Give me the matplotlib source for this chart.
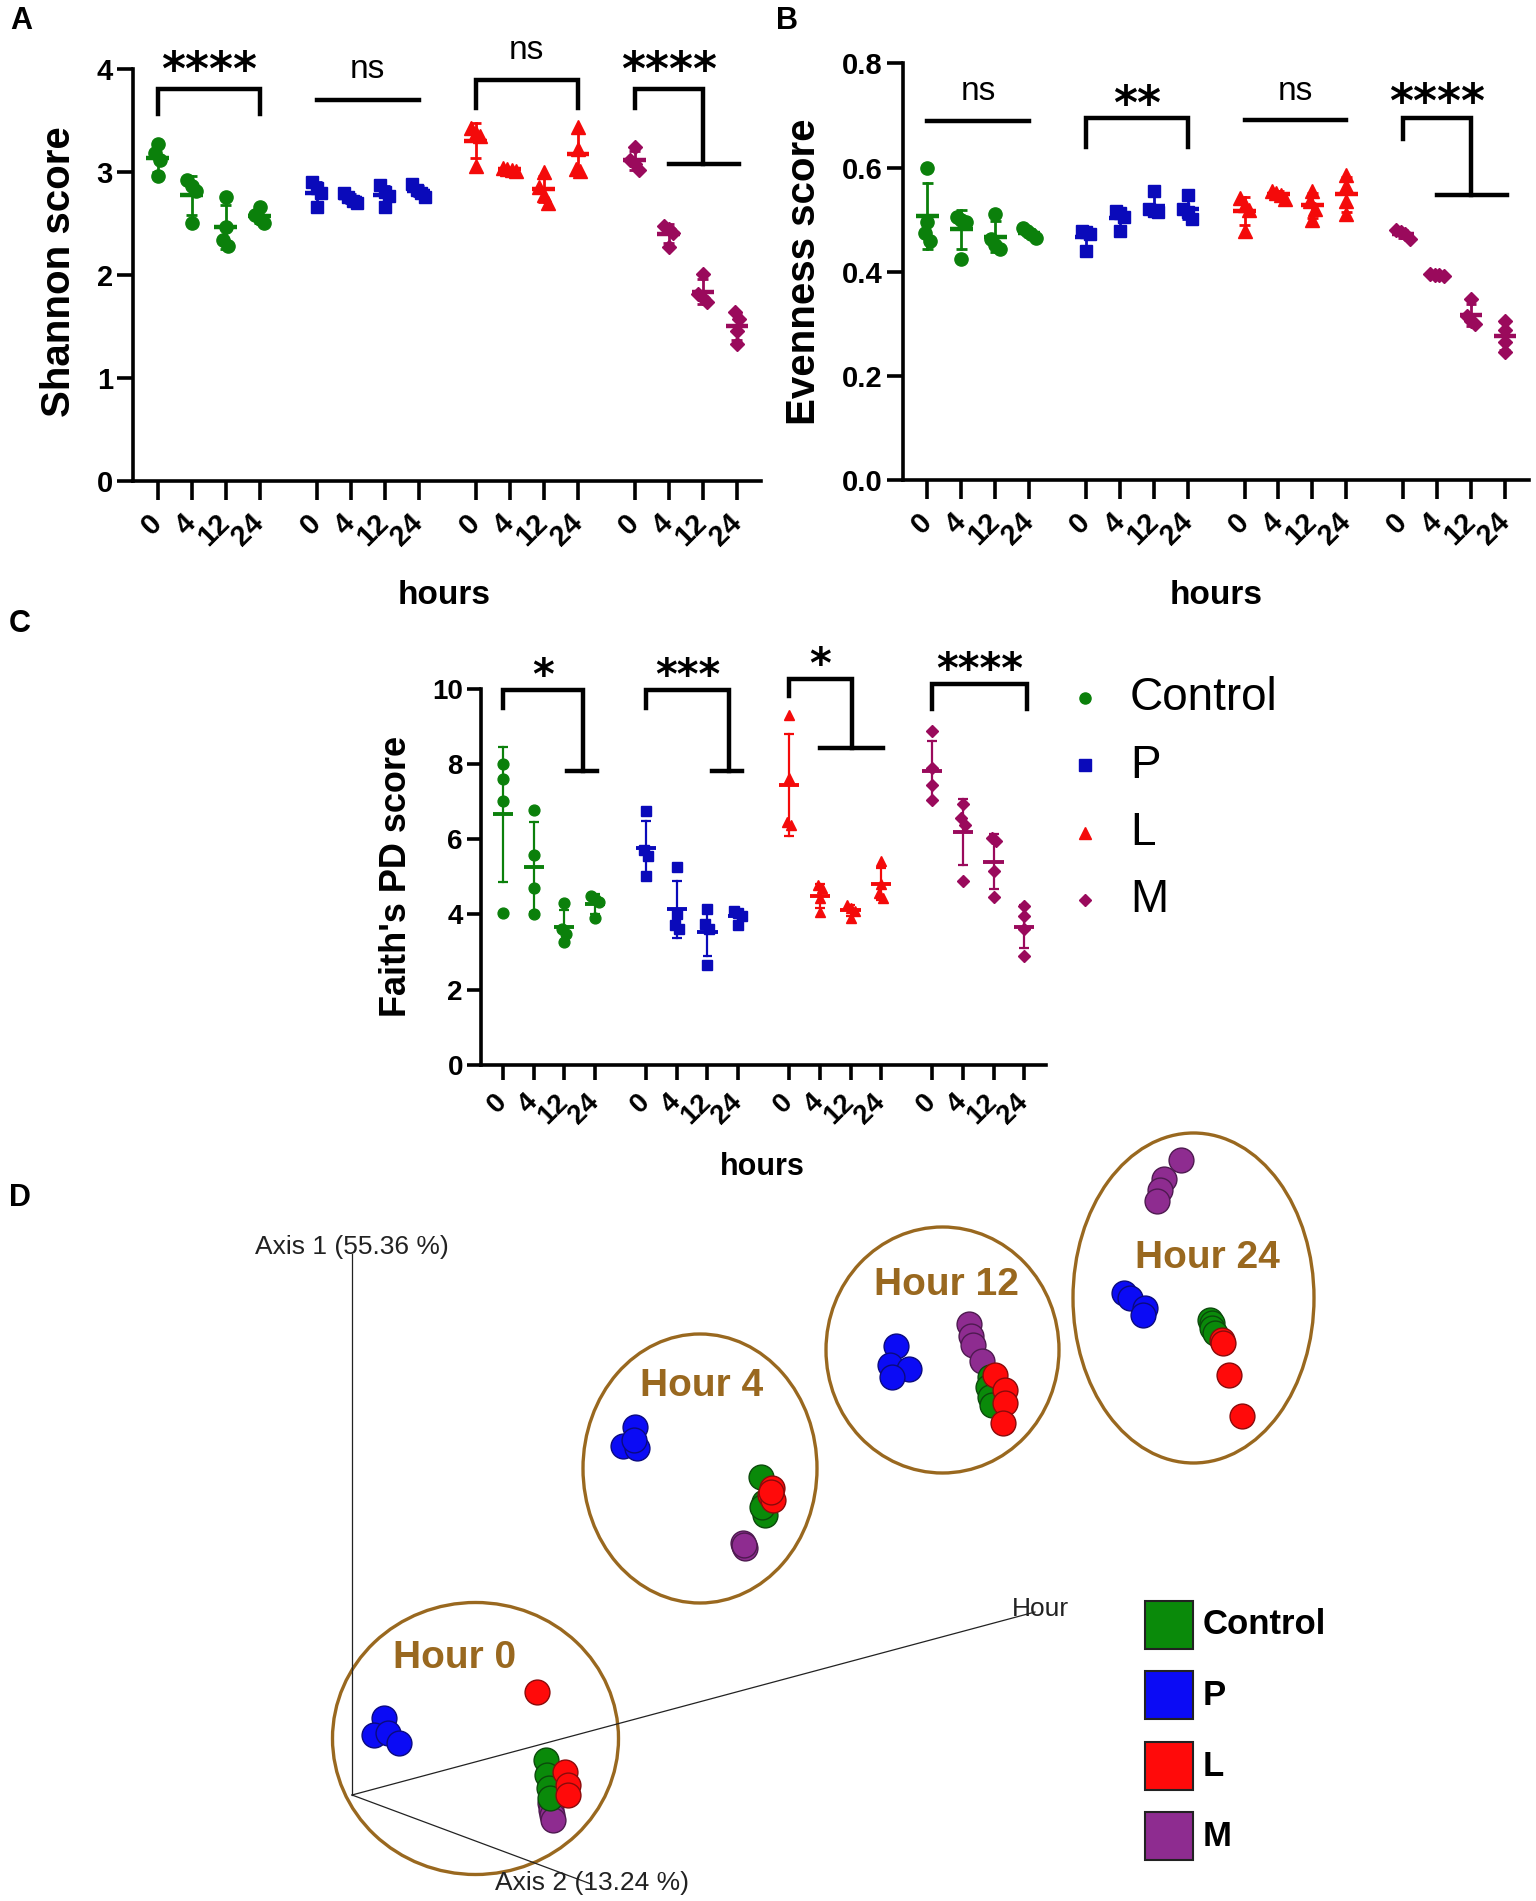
import matplotlib
matplotlib.use('Agg')
import matplotlib.pyplot as plt
import numpy as np
from matplotlib.patches import Ellipse, Rectangle
from matplotlib.transforms import ScaledTranslation

plt.rcParams['font.family'] = ['Liberation Sans', 'DejaVu Sans']

W, H, DPI = 1536, 1901, 100

# ---------------- data ----------------
groups = ['Control', 'P', 'L', 'M']
hours = ['0', '4', '12', '24']

shannon_control = [[3.27, 3.18, 3.12, 2.96], [2.92, 2.86, 2.82, 2.50], [2.76, 2.47, 2.34, 2.28], [2.66, 2.58, 2.54, 2.50]]
shannon_p = [[2.90, 2.84, 2.80, 2.66], [2.80, 2.76, 2.72, 2.70], [2.87, 2.81, 2.77, 2.66], [2.88, 2.83, 2.80, 2.76]]
shannon_l = [[3.43, 3.38, 3.35, 3.06], [3.04, 3.03, 3.02, 3.01], [3.00, 2.85, 2.78, 2.70], [3.44, 3.22, 3.03, 3.01]]
shannon_m = [[3.24, 3.12, 3.08, 3.02], [2.48, 2.45, 2.41, 2.27], [2.01, 1.82, 1.78, 1.74], [1.64, 1.57, 1.46, 1.33]]

evenness_control = [[0.600, 0.495, 0.475, 0.460], [0.505, 0.500, 0.495, 0.425], [0.510, 0.462, 0.452, 0.444], [0.484, 0.478, 0.472, 0.464]]
evenness_p = [[0.478, 0.476, 0.472, 0.440], [0.517, 0.512, 0.505, 0.478], [0.556, 0.520, 0.517, 0.515], [0.548, 0.520, 0.515, 0.502]]
evenness_l = [[0.542, 0.528, 0.518, 0.478], [0.556, 0.552, 0.548, 0.540], [0.556, 0.535, 0.520, 0.500], [0.586, 0.565, 0.535, 0.510]]
evenness_m = [[0.480, 0.477, 0.472, 0.462], [0.396, 0.394, 0.393, 0.392], [0.348, 0.315, 0.305, 0.300], [0.306, 0.288, 0.266, 0.245]]

faith_control = [[8.00, 7.60, 7.00, 4.03], [6.78, 5.58, 4.71, 4.01], [4.30, 3.60, 3.48, 3.28], [4.50, 4.40, 4.33, 3.90]]
faith_p = [[6.74, 5.70, 5.55, 5.02], [5.25, 4.00, 3.72, 3.60], [4.15, 3.75, 3.60, 2.65], [4.10, 4.05, 3.95, 3.72]]
faith_l = [[9.30, 7.62, 6.45, 6.38], [4.78, 4.70, 4.44, 4.06], [4.25, 4.18, 4.10, 3.90], [5.42, 4.80, 4.58, 4.44]]
faith_m = [[8.88, 7.90, 7.45, 7.05], [6.92, 6.55, 6.38, 4.90], [6.02, 5.95, 5.15, 4.47], [4.22, 3.95, 3.62, 2.90]]

sig_a = ['****', 'ns', 'ns', '****']
sig_b = ['ns', '**', 'ns', '****']
sig_c = ['*', '***', '*', '****']

# PCoA (projected 3D positions), hours 0,4,12,24 x 4 replicates
pcoa_control_x = [546, 547, 549, 550, 761, 764, 765, 762, 990, 988, 990, 992, 1210, 1212, 1212, 1215]
pcoa_control_y = [1760, 1775, 1788, 1798, 1477, 1502, 1515, 1507, 1377, 1387, 1397, 1405, 1320, 1323, 1328, 1333]
pcoa_p_x = [384, 374, 388, 399, 635, 623, 637, 634, 896, 890, 909, 892, 1124, 1130, 1145, 1143]
pcoa_p_y = [1718, 1735, 1733, 1743, 1427, 1446, 1448, 1440, 1346, 1365, 1369, 1377, 1293, 1298, 1308, 1315]
pcoa_l_x = [537, 565, 568, 568, 772, 770, 773, 771, 995, 1005, 1005, 1003, 1222, 1223, 1229, 1242]
pcoa_l_y = [1692, 1772, 1785, 1795, 1488, 1495, 1500, 1492, 1375, 1390, 1403, 1423, 1340, 1343, 1375, 1416]
pcoa_m_x = [550, 551, 552, 553, 743, 744, 745, 744, 969, 971, 973, 982, 1181, 1164, 1160, 1157]
pcoa_m_y = [1803, 1810, 1815, 1820, 1543, 1546, 1548, 1545, 1324, 1336, 1345, 1361, 1160, 1179, 1190, 1201]
hour_labels = ['Hour 0', 'Hour 4', 'Hour 12', 'Hour 24']

# ---------------- style ----------------
colors = {'Control': '#0B800B', 'P': '#0A0ABA', 'L': '#F40A0A', 'M': '#9A0A5C'}
markers = {'Control': 'o', 'P': 's', 'L': '^', 'M': 'D'}
msize = {'Control': 9.5, 'P': 9, 'L': 9.5, 'M': 7}
pcoa_colors = {'Control': '#0A8A0A', 'P': '#0B0BF5', 'L': '#FF0A0A', 'M': '#8E2C90'}
pcoa_edges = {'Control': '#0B4A0B', 'P': '#0A0A80', 'L': '#8A0A0A', 'M': '#4E1A50'}
brown = '#99681F'

fig = plt.figure(figsize=(W / DPI, H / DPI), dpi=DPI)

def px_axes(l, t, r, b):
    return fig.add_axes([l / W, 1 - b / H, (r - l) / W, (b - t) / H])

GAP = 4.67
def xpos(g, i):
    return g * GAP + i

def style_axes(ax, ylim, yticks, yticklabels, tsize, xlen, ylen):
    ax.set_xlim(-0.72, 17.72)
    ax.set_ylim(*ylim)
    for s in ['top', 'right']:
        ax.spines[s].set_visible(False)
    for s in ['left', 'bottom']:
        ax.spines[s].set_linewidth(2.6)
    ax.set_yticks(yticks)
    ax.set_yticklabels(yticklabels, fontsize=tsize, fontweight='bold')
    ax.set_xticks([xpos(g, i) for g in range(4) for i in range(4)])
    ax.set_xticklabels(hours * 4, fontsize=tsize, fontweight='bold', rotation=45,
                       ha='right', va='center', rotation_mode='anchor')
    ax.tick_params(axis='x', direction='out', length=xlen, width=2.6, pad=13)
    ax.tick_params(axis='y', direction='out', length=ylen, width=2.6, pad=3)
    ax.patch.set_alpha(0)

def draw_strip(ax, series, thr, mscale, mean_hw, cap_hw, lw_err, lw_mean):
    for g, grp in enumerate(groups):
        c = colors[grp]
        for i, vals in enumerate(series[g]):
            x0 = xpos(g, i)
            v = np.array(vals, dtype=float)
            order = np.argsort(-v)
            vs = v[order]
            offs = np.zeros(len(vs))
            start = 0
            for j in range(1, len(vs) + 1):
                if j == len(vs) or abs(vs[j] - vs[j - 1]) > thr:
                    n = j - start
                    if n > 1:
                        offs[start:j] = (np.arange(n) - (n - 1) / 2) * 0.13
                    start = j
            ax.plot(x0 + offs, vs, linestyle='none', marker=markers[grp],
                    ms=msize[grp] * mscale, color=c, mec=c, zorder=3, clip_on=False)
            m = v.mean()
            s = v.std(ddof=1)
            ax.plot([x0 - mean_hw, x0 + mean_hw], [m, m], color=c, lw=lw_mean, zorder=4,
                    solid_capstyle='butt')
            ax.plot([x0, x0], [m - s, m + s], color=c, lw=lw_err, zorder=4)
            for yy in (m - s, m + s):
                ax.plot([x0 - cap_hw, x0 + cap_hw], [yy, yy], color=c, lw=lw_err, zorder=4,
                        solid_capstyle='butt')

def line(ax, xs, ys):
    ax.plot(xs, ys, color='black', lw=3.2, clip_on=False, solid_capstyle='projecting',
            solid_joinstyle='miter', zorder=5)

def sig_text(ax, x, y, s, size):
    if 'n' in s:
        fam, frac, wt = ['Liberation Sans'], 0.26, 'normal'
    else:
        fam, frac, wt = ['DejaVu Sans'], 0.57, 'bold'
    tr = ax.transData + ScaledTranslation(0, -frac * size / 72, fig.dpi_scale_trans)
    ax.text(x, y, s, transform=tr, ha='center', va='baseline', fontsize=size,
            fontweight=wt, family=fam, clip_on=False)

def draw_sig(ax, specs, labels, size_ast, size_ns):
    for g, (spec, lab) in enumerate(zip(specs, labels)):
        b = g * GAP
        kind = spec[0]
        if kind == 'line':
            _, y, tx, ty = spec
            line(ax, [b, b + 3], [y, y])
        elif kind == 'bracket':
            _, top, leg, x1, tx, ty = spec
            line(ax, [b, b, b + x1, b + x1], [leg, top, top, leg])
        else:
            _, top, leg, xv, ybot, hx0, hx1, tx, ty = spec
            line(ax, [b, b, b + xv, b + xv], [leg, top, top, ybot])
            line(ax, [b + hx0, b + hx1], [ybot, ybot])
        sig_text(ax, b + tx, ty, lab, size_ns if 'n' in lab else size_ast)

# ---------------- panel A ----------------
axA = px_axes(133, 69, 761, 481)
style_axes(axA, (0, 4), [0, 1, 2, 3, 4], ['0', '1', '2', '3', '4'], 21, 14, 11.5)
draw_strip(axA, [shannon_control, shannon_p, shannon_l, shannon_m], 0.08, 1.0, 0.33, 0.16, 2.0, 3.2)
draw_sig(axA, [('bracket', 3.81, 3.56, 3, 1.5, 4.10),
               ('line', 3.70, 1.5, 4.00),
               ('bracket', 3.89, 3.62, 3, 1.5, 4.18),
               ('step', 3.81, 3.62, 2, 3.08, 1, 3.05, 1.0, 4.10)], sig_a, 33, 24)

# ---------------- panel B ----------------
axB = px_axes(903, 63.5, 1529, 480)
style_axes(axB, (0, 0.8), [0, 0.2, 0.4, 0.6, 0.8], ['0.0', '0.2', '0.4', '0.6', '0.8'], 21, 14, 11.5)
draw_strip(axB, [evenness_control, evenness_p, evenness_l, evenness_m], 0.016, 1.0, 0.33, 0.16, 2.0, 3.2)
draw_sig(axB, [('line', 0.690, 1.5, 0.747),
               ('bracket', 0.695, 0.640, 3, 1.5, 0.743),
               ('line', 0.691, 1.5, 0.747),
               ('step', 0.696, 0.655, 2, 0.547, 1, 3.05, 1.0, 0.747)], sig_b, 33, 24)

# ---------------- panel C ----------------
axC = px_axes(481, 688.5, 1046, 1065)
style_axes(axC, (0, 10), [0, 2, 4, 6, 8, 10], ['0', '2', '4', '6', '8', '10'], 20, 11, 10)
draw_strip(axC, [faith_control, faith_p, faith_l, faith_m], 0.18, 0.82, 0.33, 0.16, 1.6, 2.8)
draw_sig(axC, [('step', 9.95, 9.49, 2.6, 7.81, 2.1, 3.08, 1.3, 10.61),
               ('step', 9.95, 9.49, 2.7, 7.81, 2.16, 3.12, 1.35, 10.61),
               ('step', 10.26, 9.80, 2.04, 8.42, 1.0, 3.06, 1.0, 10.92),
               ('bracket', 10.12, 9.46, 3.1, 1.55, 10.77)], sig_c, 30, 22)

# ---------------- overlay (labels, legend, panel D) ----------------
ov = fig.add_axes([0, 0, 1, 1])
ov.set_xlim(0, W)
ov.set_ylim(H, 0)
ov.axis('off')
ov.patch.set_alpha(0)

for lab, (x, y) in zip('ABCD', [(21, 21), (787, 21), (20, 624), (20, 1198)]):
    ov.text(x, y, lab, fontsize=22, fontweight='bold', ha='center', va='center')

ov.text(59, 272, 'Shannon score', rotation=90, fontsize=29, fontweight='bold', ha='center', va='center')
ov.text(804, 272, 'Evenness score', rotation=90, fontsize=29, fontweight='bold', ha='center', va='center')
ov.text(397, 876, "Faith's PD score", rotation=90, fontsize=26, fontweight='bold', ha='center', va='center')
ov.text(444, 596, 'hours', fontsize=24, fontweight='bold', ha='center', va='center')
ov.text(1216, 596, 'hours', fontsize=24, fontweight='bold', ha='center', va='center')
ov.text(762, 1167, 'hours', fontsize=22, fontweight='bold', ha='center', va='center')

# legend of panel C
for k, grp in enumerate(groups):
    yy = 698 + k * 67.5
    ov.plot([1085], [yy], linestyle='none', marker=markers[grp], color=colors[grp],
            ms=8 if grp != 'M' else 6)
    ov.text(1130, yy, grp, fontsize=33, ha='left', va='center')

# panel D axes
origin = (352, 1795)
ax_color = '#222222'
ov.plot([origin[0], 352], [origin[1], 1254], color=ax_color, lw=0.9)
ov.plot([origin[0], 591], [origin[1], 1884], color=ax_color, lw=0.9)
ov.plot([origin[0], 1035], [origin[1], 1612], color=ax_color, lw=0.9)
ov.text(352, 1247, 'Axis 1 (55.36 %)', fontsize=19, ha='center', va='center', color='#222222')
ov.text(592, 1883, 'Axis 2 (13.24 %)', fontsize=19, ha='center', va='center', color='#222222')
ov.text(1040, 1609, 'Hour', fontsize=19, ha='center', va='center', color='#222222')

# cluster ellipses
ell_cx = [475.5, 700, 942.5, 1193.5]
ell_cy = [1738.5, 1468.5, 1350, 1298]
ell_w = [286, 234, 233, 241]
ell_h = [272, 269, 246, 330]
lab_x = [455, 702, 946, 1207]
lab_y = [1658, 1386, 1285, 1258]
for k in range(4):
    ov.add_patch(Ellipse((ell_cx[k], ell_cy[k]), ell_w[k], ell_h[k], fill=False,
                         ec=brown, lw=2.4))
    ov.text(lab_x[k], lab_y[k], hour_labels[k], fontsize=28, fontweight='bold',
            color=brown, ha='center', va='center')

pcoa = {'Control': (pcoa_control_x, pcoa_control_y), 'P': (pcoa_p_x, pcoa_p_y),
        'L': (pcoa_l_x, pcoa_l_y), 'M': (pcoa_m_x, pcoa_m_y)}
for grp in ['M', 'P', 'Control', 'L']:
    xs, ys = pcoa[grp]
    ov.scatter(xs, ys, s=320, c=pcoa_colors[grp], edgecolors=pcoa_edges[grp],
               linewidths=1.0, zorder=3)

# legend of panel D
for k, grp in enumerate(groups):
    top = 1601 + k * 70.5
    ov.add_patch(Rectangle((1145, top), 48, 48, fc=pcoa_colors[grp], ec='#222222', lw=1.5))
    ov.text(1203, top + 24, grp, fontsize=25, fontweight='bold', ha='left', va='center')

fig.savefig('out.png', dpi=DPI)
